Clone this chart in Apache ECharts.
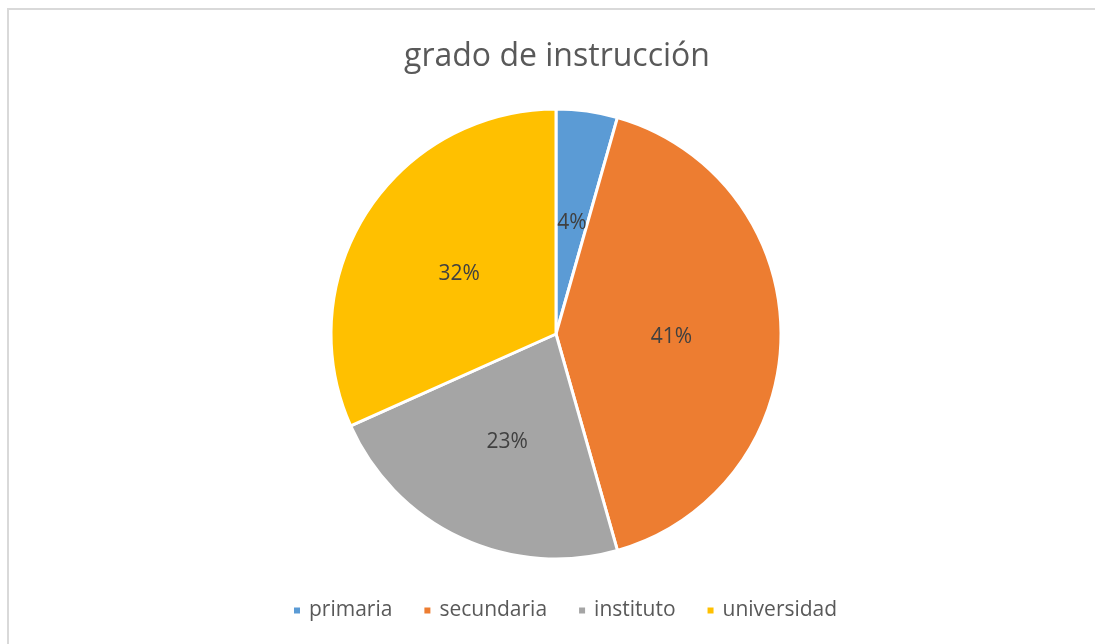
<!DOCTYPE html>
<html>
<head>
<meta charset="utf-8">
<script src="https://cdn.jsdelivr.net/npm/echarts@6/dist/echarts.min.js"></script>
<style>
html,body{margin:0;padding:0;background:#fff;}
#main{width:1095px;height:644px;}
</style>
</head>
<body>
<div id="main"></div>
<script>
const titleText = 'grado de instrucción';
const categories = ['primaria', 'secundaria', 'instituto', 'universidad'];
const values = [4.4, 41.2, 22.7, 31.7];
const colors = ['#5B9BD5', '#ED7D31', '#A5A5A5', '#FFC000'];

const chart = echarts.init(document.getElementById('main'));
const font = '"Open Sans", "Noto Sans", sans-serif';
chart.setOption({
  animation: false,
  backgroundColor: '#fff',
  graphic: [{
    type: 'rect',
    shape: {x: 8, y: 9, width: 1200, height: 1000},
    style: {fill: 'none', stroke: '#d9d9d9', lineWidth: 2},
    silent: true
  }],
  title: {
    text: titleText,
    left: 552,
    textAlign: 'center',
    top: 36,
    textStyle: {fontFamily: font, fontSize: 32, fontWeight: 'normal', color: '#595959'}
  },
  legend: {
    top: 595,
    left: 287,
    icon: 'rect',
    itemWidth: 8,
    itemHeight: 8,
    itemGap: 30,
    textStyle: {fontFamily: font, fontSize: 21, color: '#595959', padding: [0, 0, 0, 3]},
    data: categories
  },
  series: [{
    type: 'pie',
    center: [556, 334],
    radius: 225,
    startAngle: 90,
    clockwise: true,
    color: colors,
    itemStyle: {borderColor: '#fff', borderWidth: 3},
    label: {
      position: 'inside',
      fontFamily: font,
      fontSize: 21,
      color: '#404040',
      offset: [0, 3],
      formatter: p => Math.round(p.percent) + '%'
    },
    labelLine: {show: false},
    data: categories.map((c, i) => ({name: c, value: values[i]}))
  }]
});
</script>
</body>
</html>
